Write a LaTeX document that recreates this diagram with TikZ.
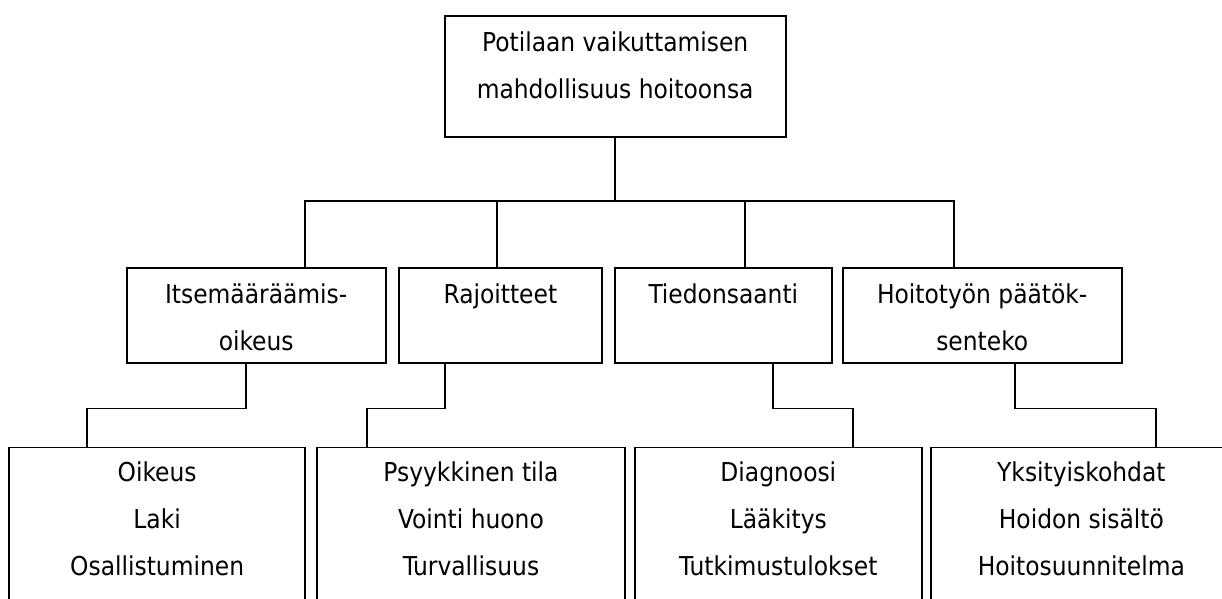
\documentclass[tikz,border=0pt]{standalone}
\usepackage{fontspec}
\setmainfont{DejaVu Sans Condensed}
\usetikzlibrary{calc}
\begin{document}
\begin{tikzpicture}[x=1pt,y=-1pt,
  box/.style={draw, line width=1.9pt, inner sep=0pt, outer sep=0pt},
  txt/.style={anchor=base, align=center, inner sep=0pt,
              font=\fontsize{26}{47}\selectfont},
  conn/.style={draw, line width=1.9pt}]
\useasboundingbox (0,0) rectangle (1222,598);
\clip (0,0) rectangle (1222,598);

% root (text nodes are placed by the baseline of their last line)
\node[box, minimum width=341, minimum height=121.3] (T) at (615.2,76.65) {};
\node[txt] (Tt) at ($(T.north)+(0,82.7)$) {Potilaan vaikuttamisen\\mahdollisuus hoitoonsa};

% second level
\node[box, minimum width=259,   minimum height=95.6] (A) at (256.2,315.5) {};
\node[box, minimum width=202.7, minimum height=95.6] (B) at (500.35,315.5) {};
\node[box, minimum width=216.7, minimum height=95.6] (C) at (723.35,315.5) {};
\node[box, minimum width=279,   minimum height=95.6] (D) at (982.2,315.5) {};
\node[txt] (At) at ($(A.north)+(0,82.5)$) {Itsemääräämis-\\oikeus};
\node[txt] (Bt) at ($(B.north)+(0,35.5)$) {Rajoitteet};
\node[txt] (Ct) at ($(C.north)+(0,35.5)$) {Tiedonsaanti};
\node[txt] (Dt) at ($(D.north)+(0,82.5)$) {Hoitotyön päätök-\\senteko};

% third level (boxes run past the lower edge)
\node[box, minimum width=296.3, minimum height=172.5] (A3) at (157.15,533.75) {};
\node[box, minimum width=308.6, minimum height=172.5] (B3) at (471,533.75) {};
\node[box, minimum width=286.7, minimum height=172.5] (C3) at (778.35,533.75) {};
\node[box, minimum width=300.7, minimum height=172.5] (D3) at (1081.35,533.75) {};
\node[txt] (A3t) at ($(A3.north)+(0,127.5)$) {Oikeus\\Laki\\Osallistuminen};
\node[txt] (B3t) at ($(B3.north)+(0,127.5)$) {Psyykkinen tila\\Vointi huono\\Turvallisuus};
\node[txt] (C3t) at ($(C3.north)+(0,127.5)$) {Diagnoosi\\Lääkitys\\Tutkimustulokset};
\node[txt] (D3t) at ($(D3.north)+(0,127.5)$) {Yksityiskohdat\\Hoidon sisältö\\Hoitosuunnitelma};

% connector ends on the box edges
\coordinate (A-in) at ($(A.north west)+(178.3,0)$);
\coordinate (B-in) at ($(B.north west)+(98,0)$);
\coordinate (C-in) at ($(C.north west)+(130,0)$);
\coordinate (D-in) at ($(D.north west)+(111,0)$);
\coordinate (A-out) at ($(A.south west)+(119,0)$);
\coordinate (B-out) at ($(B.south west)+(46.3,0)$);
\coordinate (C-out) at ($(C.south west)+(158.3,0)$);
\coordinate (D-out) at ($(D.south west)+(172.6,0)$);
\coordinate (A3-in) at ($(A3.north west)+(78.3,0)$);
\coordinate (B3-in) at ($(B3.north west)+(50.3,0)$);
\coordinate (C3-in) at ($(C3.north west)+(218.3,0)$);
\coordinate (D3-in) at ($(D3.north west)+(224.7,0)$);

% root to second level
\draw[conn] (T.south) -- ++(0,63.4) -| (A-in);
\draw[conn] (T.south) -- ++(0,63.4) -| (B-in);
\draw[conn] (T.south) -- ++(0,63.4) -| (C-in);
\draw[conn] (T.south) -- ++(0,63.4) -| (D-in);

% second level to third level
\draw[conn] (A-out) -- ++(0,45.2) -| (A3-in);
\draw[conn] (B-out) -- ++(0,45.2) -| (B3-in);
\draw[conn] (C-out) -- ++(0,45.2) -| (C3-in);
\draw[conn] (D-out) -- ++(0,45.2) -| (D3-in);
\end{tikzpicture}
\end{document}
